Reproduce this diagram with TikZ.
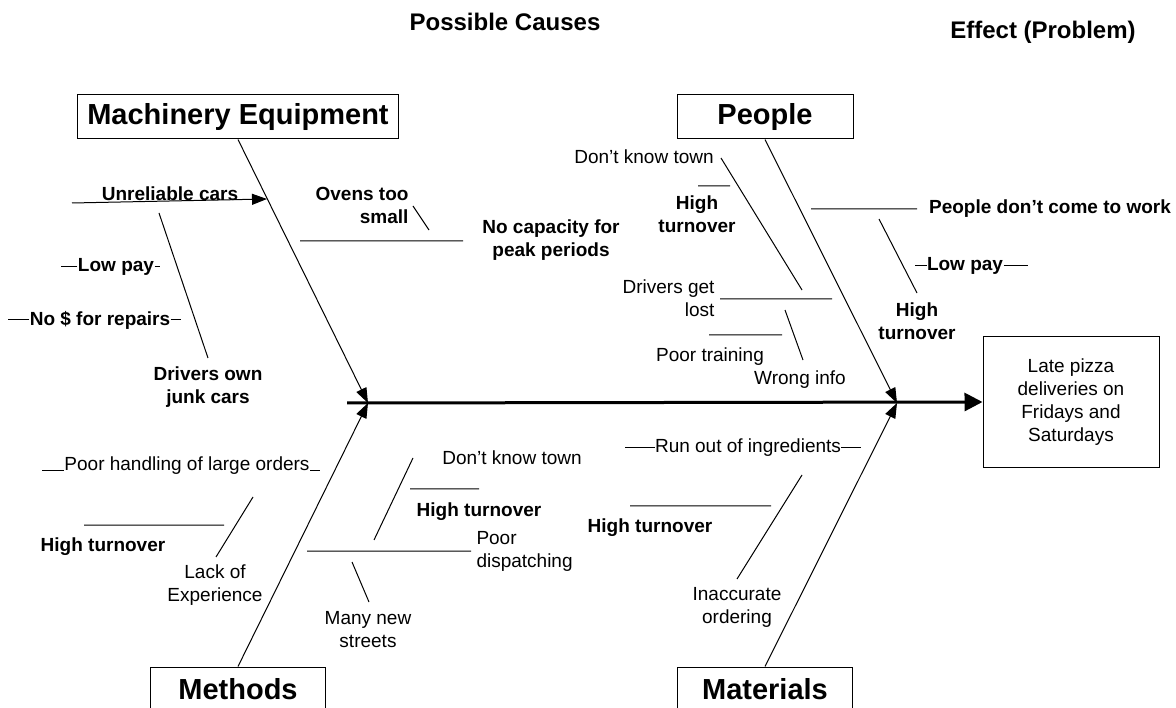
\documentclass[tikz,border=0pt]{standalone}
\usepackage{fontspec}
\setmainfont{Liberation Sans}
\usetikzlibrary{arrows.meta,positioning}

\begin{document}
\begin{tikzpicture}[x=1pt,y=-1pt,line width=1pt,
   txt/.style={font=\fontsize{19}{23}\selectfont,inner sep=0pt,align=center},
   btxt/.style={txt,font=\fontsize{19}{23}\selectfont\bfseries},
   cat/.style={draw,inner sep=0pt,minimum height=44pt,font=\fontsize{29}{34}\selectfont\bfseries},
   head/.style={inner sep=0pt,font=\fontsize{24}{28}\selectfont\bfseries},
   bone/.style={-{Triangle[length=15pt,width=11pt]}}]
   \useasboundingbox (0,0) rectangle (1176,708);
   \clip (0,0) rectangle (1176,708);

   \node[head] (causes)  at (505,22) {Possible Causes};
   \node[head] (effhead) at (1043,32) {Effect (Problem)};

   \node[cat,minimum width=321pt] (mach) at (238,117) {Machinery Equipment};
   \node[cat,minimum width=176pt] (ppl)  at (765,117) {People};
   \node[cat,minimum width=175pt] (meth) at (238,689) {Methods};
   \node[cat,minimum width=175pt] (mat)  at (765,689) {Materials};
   \node[txt,draw,minimum width=176pt,minimum height=131pt] (eff) at (1071,402)
      {Late pizza\\deliveries on\\Fridays and\\Saturdays};

   \coordinate (sp) at (347,403);
   \coordinate (jl) at (368,403);
   \coordinate (jr) at (897,403);
   \draw[line width=3pt,-{Triangle[length=18pt,width=18pt]}] (sp) -- (eff.west);
   \draw[bone] (mach.south) -- (jl);
   \draw[bone] (meth.north) -- (jl);
   \draw[bone] (ppl.south) -- (jr);
   \draw[bone] (mat.north) -- (jr);

   % machinery
   \node[btxt] (unrel) at (170,194) {Unreliable cars};
   \node[btxt,align=right,anchor=east] (ovens) at (409,205) {Ovens too\\small};
   \node[btxt] (nocap) at (551,240) {No capacity for\\peak periods};
   \node[btxt] (lowpay1) at (116,267) {Low pay};
   \node[btxt] (norep) at (100,320) {No \$ for repairs};
   \node[btxt] (junk) at (208,387) {Drivers own\\junk cars};
   \coordinate (u0) at (72,203);    \coordinate (u1) at (267,199);
   \coordinate (ov1) at (413,206);  \coordinate (ov2) at (429,230);
   \coordinate (cap1) at (300,241); \coordinate (cap2) at (463,241);
   \coordinate (jc1) at (159,213);  \coordinate (jc2) at (208,358);
   \draw[bone] (u0) -- (u1);
   \draw (ov1) -- (ov2) (cap1) -- (cap2) (jc1) -- (jc2);
   \draw (lowpay1.west) -- ++(-16,0) (lowpay1.east) -- ++(5,0);
   \draw (norep.west) -- ++(-21,0) (norep.east) -- ++(10,0);

   % people
   \node[txt] (dkt1) at (644,157) {Don’t know town};
   \node[btxt] (hto1) at (697,214) {High\\turnover};
   \node[txt,align=right,anchor=east] (lost) at (715,298) {Drivers get\\lost};
   \node[txt] (train) at (710,357) {Poor training};
   \node[txt] (wrong) at (800,380) {Wrong info};
   \node[btxt] (nowork) at (1050,209) {People don’t come to work};
   \node[btxt] (lowpay2) at (965,266) {Low pay};
   \node[btxt] (hto2) at (917,321) {High\\turnover};
   \coordinate (dk1) at (721,158); \coordinate (dk2) at (802,290);
   \coordinate (ht1) at (698,186); \coordinate (ht2) at (730,186);
   \coordinate (gl1) at (720,299); \coordinate (gl2) at (832,299);
   \coordinate (pt1) at (709,335); \coordinate (pt2) at (782,335);
   \coordinate (wi1) at (785,310); \coordinate (wi2) at (803,360);
   \coordinate (nw1) at (811,209); \coordinate (nw2) at (917,209);
   \coordinate (lp1) at (879,219); \coordinate (lp2) at (917,293);
   \draw (dk1) -- (dk2) (ht1) -- (ht2) (gl1) -- (gl2) (pt1) -- (pt2)
         (wi1) -- (wi2) (nw1) -- (nw2) (lp1) -- (lp2);
   \draw (lowpay2.west) -- ++(-12,0) (lowpay2.east) -- ++(24,0);

   % methods
   \node[txt] (large) at (187,466) {Poor handling of large orders};
   \node[btxt] (hto3) at (103,547) {High turnover};
   \node[txt] (lack) at (215,585) {Lack of\\Experience};
   \node[txt] (dkt2) at (512,458) {Don’t know town};
   \node[btxt] (hto4) at (479,512) {High turnover};
   \node[txt,align=left,anchor=west] (disp) at (476,551) {Poor\\dispatching};
   \node[txt] (streets) at (368,630) {Many new\\streets};
   \coordinate (le1) at (253,497); \coordinate (le2) at (216,557);
   \coordinate (ht3) at (84,525);  \coordinate (ht4) at (224,525);
   \coordinate (pd1) at (307,551); \coordinate (pd2) at (471,551);
   \coordinate (dk3) at (413,458); \coordinate (dk4) at (374,540);
   \coordinate (ht5) at (410,489); \coordinate (ht6) at (479,489);
   \coordinate (ms1) at (352,562); \coordinate (ms2) at (369,602);
   \draw (le1) -- (le2) (ht3) -- (ht4) (pd1) -- (pd2) (dk3) -- (dk4)
         (ht5) -- (ht6) (ms1) -- (ms2);
   \draw (large.base west) -- ++(-22,0) (large.base east) -- ++(10,0);

   % materials
   \node[txt] (ingr) at (748,448) {Run out of ingredients};
   \node[btxt] (hto5) at (650,528) {High turnover};
   \node[txt] (order) at (737,607) {Inaccurate\\ordering};
   \coordinate (io1) at (802,475); \coordinate (io2) at (737,579);
   \coordinate (ht7) at (630,506); \coordinate (ht8) at (771,506);
   \draw (io1) -- (io2) (ht7) -- (ht8);
   \draw (ingr.west) -- ++(-30,0) (ingr.east) -- ++(20,0);
\end{tikzpicture}
\end{document}
